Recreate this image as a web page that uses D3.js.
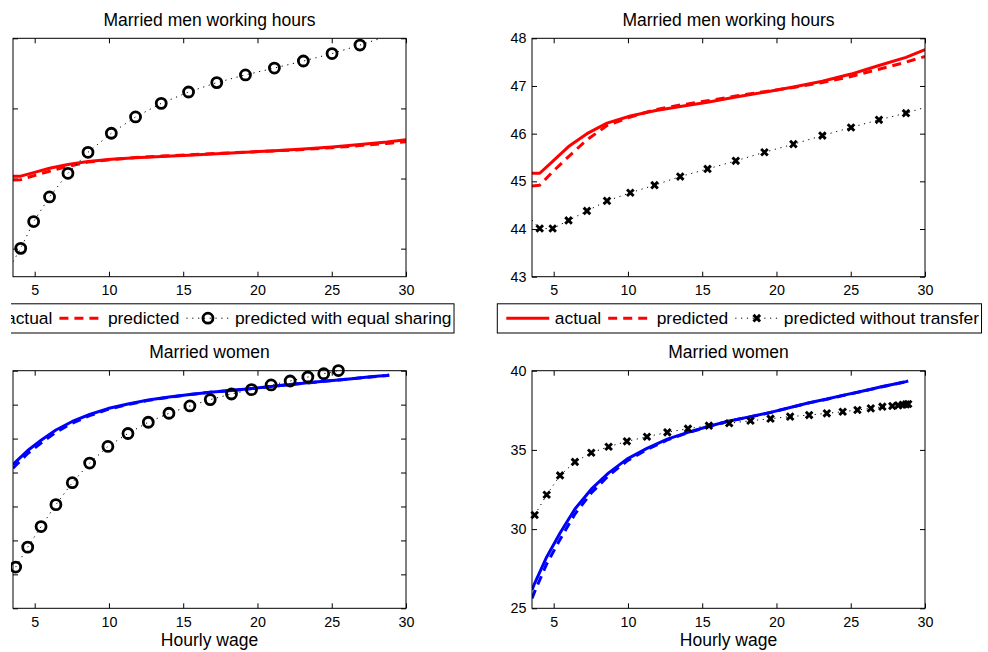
<!DOCTYPE html>
<html><head><meta charset="utf-8">
<script src="https://cdn.jsdelivr.net/npm/d3@7/dist/d3.min.js"></script>
<style>
body{margin:0;background:#fff}
svg text{font-family:"Liberation Sans",Arial,Helvetica,sans-serif;fill:#000}
</style>
</head><body>
<svg id="chart" width="988" height="652"></svg>
<script>
// ---------------- data ----------------
const xTicks = [5, 10, 15, 20, 25, 30];
const xDomain = [3.54, 30];

// Men: wage grid (line points); markers sit on the inner points
const menWage = [3.54, 4.06, 4.93, 6.0, 7.24, 8.59, 10.16, 11.79, 13.52, 15.36, 17.26, 19.19, 21.14, 23.09, 25.02, 26.9, 28.72, 30];
const menActual = [45.17, 45.17, 45.42, 45.73, 46.0, 46.22, 46.37, 46.48, 46.57, 46.66, 46.77, 46.87, 46.98, 47.1, 47.25, 47.43, 47.6, 47.76];
const menPredicted = [44.9, 44.92, 45.2, 45.52, 45.87, 46.17, 46.35, 46.5, 46.6, 46.69, 46.79, 46.88, 46.97, 47.07, 47.2, 47.35, 47.5, 47.62];
const menEqualSharing = [39.07, 40.02, 41.93, 43.69, 45.37, 46.87, 48.23, 49.39, 50.36, 51.17, 51.84, 52.39, 52.88, 53.38, 53.91, 54.52, 55.15, 55.5];
const menNoTransfer = [44.19, 44.01, 44.01, 44.18, 44.38, 44.59, 44.76, 44.92, 45.10, 45.26, 45.43, 45.61, 45.78, 45.96, 46.13, 46.29, 46.43, 46.55];

// Women: wage grid for the blue lines
const womenWage = [3.54, 3.72, 4.53, 5.43, 6.43, 7.53, 8.70, 9.93, 11.28, 12.65, 14.04, 15.45, 16.82, 18.25, 19.6, 20.92, 22.2, 23.39, 24.46, 25.45, 26.35, 27.13, 27.8, 28.2, 28.5, 28.72, 28.87];
const womenActual = [26.16, 26.58, 28.24, 29.75, 31.27, 32.52, 33.55, 34.42, 35.1, 35.68, 36.11, 36.49, 36.83, 37.1, 37.37, 37.68, 37.98, 38.21, 38.44, 38.64, 38.83, 39.0, 39.13, 39.21, 39.27, 39.31, 39.35];
const womenPredicted = [25.63, 26.05, 27.8, 29.35, 30.95, 32.28, 33.38, 34.3, 35.02, 35.63, 36.09, 36.48, 36.82, 37.09, 37.36, 37.67, 37.97, 38.2, 38.43, 38.63, 38.82, 38.99, 39.12, 39.2, 39.26, 39.3, 39.34];
// counterfactuals (markers) on the wage grid without its first point
const womenMarkerWage = womenWage.slice(1);
const womenEqualSharing = [11.07, 14.01, 17.04, 20.27, 23.5, 26.39, 28.84, 30.75, 32.41, 33.73, 34.81, 35.74, 36.57, 37.21, 37.9, 38.48, 39.07, 39.56, 40.02, 40.5, 40.9, 41.2, 41.4, 41.5, 41.6, 41.7];
const womenNoTransfer = [30.89, 32.17, 33.39, 34.24, 34.82, 35.20, 35.54, 35.83, 36.11, 36.34, 36.53, 36.68, 36.84, 36.97, 37.10, 37.20, 37.31, 37.41, 37.52, 37.62, 37.73, 37.77, 37.81, 37.85, 37.87, 37.9];

const titles = ["Married men working hours", "Married women"];
const xLabel = "Hourly wage";
const legendLeft = ["actual", "predicted", "predicted with equal sharing"];
const legendRight = ["actual", "predicted", "predicted without transfer"];

// ---------------- drawing ----------------
const svg = d3.select("#chart");
const defs = svg.append("defs");
defs.append("clipPath").attr("id", "page").append("rect")
  .attr("x", 11).attr("y", 0).attr("width", 977).attr("height", 652);
const root = svg.append("g").attr("clip-path", "url(#page)");

const RED = "#ff0000", BLUE = "#0000ff";
let clipId = 0;

function panel(o) {
  const x = d3.scaleLinear().domain(xDomain).range([o.x0, o.x1]);
  const y = d3.scaleLinear().domain(o.yDomain).range([o.y1, o.y0]);
  const g = root.append("g");
  const id = "cp" + (clipId++);
  defs.append("clipPath").attr("id", id).append("rect")
    .attr("x", o.x0).attr("y", o.y0).attr("width", o.x1 - o.x0).attr("height", o.y1 - o.y0);

  const tickStyle = sel => {
    sel.select(".domain").remove();
    sel.selectAll("line").attr("stroke", "#000").attr("stroke-width", 1);
    sel.selectAll("text").style("font-size", "14.3px");
  };
  g.append("g").attr("transform", `translate(0,${o.y1})`)
    .call(d3.axisBottom(x).tickValues(xTicks).tickSizeInner(-5).tickSizeOuter(0).tickPadding(8.6).tickFormat(d3.format("d")))
    .call(tickStyle);
  g.append("g").attr("transform", `translate(0,${o.y0})`)
    .call(d3.axisTop(x).tickValues(xTicks).tickSizeInner(-5).tickSizeOuter(0).tickFormat(""))
    .call(tickStyle).call(s => s.selectAll("text").remove());
  g.append("g").attr("transform", `translate(${o.x0},0)`)
    .call(d3.axisLeft(y).tickValues(o.yTicks).tickSizeInner(-5).tickSizeOuter(0).tickPadding(5.5).tickFormat(d3.format("d")))
    .call(tickStyle).call(s => { if (!o.yLabels) s.selectAll("text").remove(); });
  g.append("g").attr("transform", `translate(${o.x1},0)`)
    .call(d3.axisRight(y).tickValues(o.yTicks).tickSizeInner(-5).tickSizeOuter(0).tickFormat(""))
    .call(tickStyle).call(s => s.selectAll("text").remove());
  g.selectAll(".tick text").attr("fill", "#000");

  const plot = g.append("g").attr("clip-path", `url(#${id})`);
  o.series.forEach(s => {
    const pts = s.xs.map((v, i) => [v, s.ys[i]]);
    const line = d3.line().x(d => x(d[0])).y(d => y(d[1]));
    plot.append("path").attr("d", line(pts)).attr("fill", "none")
      .attr("stroke", s.color).attr("stroke-width", s.width)
      .attr("stroke-dasharray", s.dash || null)
      .attr("stroke-linecap", s.cap || "butt").attr("stroke-linejoin", "round");
  });
  o.series.filter(s => s.marker).forEach(s => {
    const [lo, hi] = o.yDomain;
    const tol = (hi - lo) * 0.004;
    const mk = s.mxs.map((v, i) => [v, s.mys[i]]).filter(d => d[1] <= hi + tol && d[1] >= lo - tol);
    drawMarkers(g, mk.map(d => [x(d[0]), y(d[1])]), s.marker);
  });

  g.append("rect").attr("x", o.x0).attr("y", o.y0).attr("width", o.x1 - o.x0).attr("height", o.y1 - o.y0)
    .attr("fill", "none").attr("stroke", "#000").attr("stroke-width", 1);

  g.append("text").attr("x", (o.x0 + o.x1) / 2).attr("y", o.y0 - 12.5)
    .attr("text-anchor", "middle").style("font-size", "17.5px").text(o.title);
  if (o.xlabel) {
    g.append("text").attr("x", (o.x0 + o.x1) / 2).attr("y", 646)
      .attr("text-anchor", "middle").style("font-size", "17.5px").text(o.xlabel);
  }
}

function drawMarkers(g, pts, type) {
  const mg = g.append("g");
  if (type === "o") {
    mg.selectAll("circle").data(pts).join("circle")
      .attr("cx", d => d[0]).attr("cy", d => d[1]).attr("r", 5)
      .attr("fill", "none").attr("stroke", "#000").attr("stroke-width", 2.8);
  } else {
    const s = 3.3;
    mg.selectAll("path").data(pts).join("path")
      .attr("d", d => `M${d[0]-s},${d[1]-s}L${d[0]+s},${d[1]+s}M${d[0]-s},${d[1]+s}L${d[0]+s},${d[1]-s}`)
      .attr("fill", "none").attr("stroke", "#000").attr("stroke-width", 2.9);
  }
}

const LX = [13, 406], RX = [532, 925];
const TY = [38.3, 276.7], BY = [370.7, 608.3];
const DASH = "9,6", DOT = "1.2,4.6";

function menSeries(cfVals, marker) {
  return [
    {xs: menWage, ys: menActual, color: RED, width: 3},
    {xs: menWage, ys: menPredicted, color: RED, width: 3, dash: DASH},
    {xs: menWage, ys: cfVals, color: "#000", width: 1, dash: DOT, marker,
     mxs: menWage.slice(1, -1), mys: cfVals.slice(1, -1)}
  ];
}
function womenSeries(cfVals, marker) {
  return [
    {xs: womenWage, ys: womenActual, color: BLUE, width: 3},
    {xs: womenWage, ys: womenPredicted, color: BLUE, width: 3, dash: DASH},
    {xs: womenMarkerWage, ys: cfVals, color: "#000", width: 1, dash: DOT, marker,
     mxs: womenMarkerWage, mys: cfVals}
  ];
}

panel({x0: LX[0], x1: LX[1], y0: TY[0], y1: TY[1], yDomain: [38, 55], yTicks: [40, 45, 50, 55], yLabels: false,
  title: titles[0], series: menSeries(menEqualSharing, "o")});
panel({x0: RX[0], x1: RX[1], y0: TY[0], y1: TY[1], yDomain: [43, 48], yTicks: [43, 44, 45, 46, 47, 48], yLabels: true,
  title: titles[0], series: menSeries(menNoTransfer, "x")});
panel({x0: LX[0], x1: LX[1], y0: BY[0], y1: BY[1], yDomain: [5, 40], yTicks: [5, 10, 15, 20, 25, 30, 35, 40], yLabels: false,
  title: titles[1], xlabel: xLabel, series: womenSeries(womenEqualSharing, "o")});
panel({x0: RX[0], x1: RX[1], y0: BY[0], y1: BY[1], yDomain: [25, 40], yTicks: [25, 30, 35, 40], yLabels: true,
  title: titles[1], xlabel: xLabel, series: womenSeries(womenNoTransfer, "x")});

function legend(L, labels, marker) {
  const top = 303.8, bot = 333, cy = 318.2;
  const g = root.append("g");
  const box = g.append("rect").attr("y", top).attr("height", bot - top).attr("fill", "#fff")
    .attr("stroke", "#000").attr("stroke-width", 1);
  let cx = L + 9;
  const styles = [
    {color: RED, width: 3, dash: null},
    {color: RED, width: 3, dash: DASH},
    {color: "#000", width: 1, dash: DOT}
  ];
  labels.forEach((lab, i) => {
    const st = styles[i];
    g.append("line").attr("x1", cx).attr("x2", cx + 43).attr("y1", cy).attr("y2", cy)
      .attr("stroke", st.color).attr("stroke-width", st.width).attr("stroke-dasharray", st.dash);
    if (i === 2) drawMarkers(g, [[cx + 21.5, cy]], marker);
    const t = g.append("text").attr("x", cx + 48.5).attr("y", cy + 6).style("font-size", "17.4px").text(lab);
    const w = t.node().getComputedTextLength();
    cx = cx + 48.5 + w + 7;
  });
  box.attr("x", L).attr("width", cx - 7 + 2.5 - L);
}
legend(-51.5, legendLeft, "o");
legend(497.3, legendRight, "x");
</script>
</body></html>
